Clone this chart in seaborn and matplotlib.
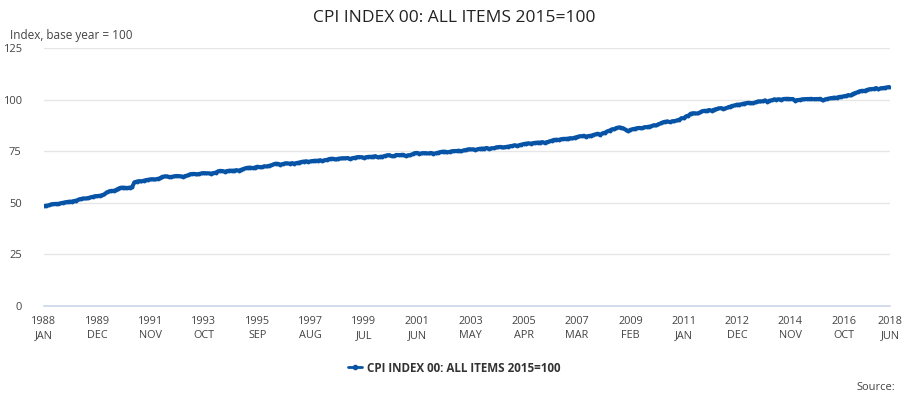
import numpy as np
import pandas as pd
import matplotlib
matplotlib.use("Agg")
import matplotlib.pyplot as plt
import seaborn as sns
from matplotlib.lines import Line2D

# ---- data (monthly CPI index, 2015=100) ----
y1988 = [48.4, 48.6, 48.8, 49.2, 49.4, 49.5, 49.5, 49.7, 50.0, 50.2, 50.4, 50.6]
y1989 = [50.6, 50.9, 51.1, 51.6, 51.9, 52.1, 52.1, 52.3, 52.6, 52.9, 53.2, 53.3]
y1990 = [53.4, 53.7, 54.1, 55.0, 55.5, 55.8, 55.8, 56.2, 56.8, 57.3, 57.4, 57.3]
y1991 = [57.2, 57.4, 57.6, 59.9, 60.3, 60.5, 60.4, 60.7, 61.0, 61.2, 61.4, 61.4]
y1992 = [61.3, 61.6, 61.9, 62.6, 62.8, 62.8, 62.5, 62.6, 62.8, 63.0, 63.0, 62.8]
y1993 = [62.6, 63.0, 63.3, 63.8, 64.0, 64.0, 63.8, 64.0, 64.3, 64.4, 64.3, 64.3]
y1994 = [64.1, 64.4, 64.6, 65.2, 65.5, 65.4, 65.1, 65.4, 65.6, 65.6, 65.6, 65.8]
y1995 = [65.6, 66.0, 66.4, 66.8, 67.0, 67.1, 66.8, 67.1, 67.5, 67.3, 67.3, 67.7]
y1996 = [67.6, 67.9, 68.2, 68.6, 69.0, 68.9, 68.5, 68.8, 69.1, 69.1, 69.0, 69.2]
y1997 = [69.0, 69.3, 69.5, 69.8, 70.0, 70.1, 69.9, 70.1, 70.3, 70.4, 70.4, 70.6]
y1998 = [70.3, 70.6, 70.8, 71.2, 71.4, 71.3, 71.0, 71.4, 71.5, 71.6, 71.6, 71.7]
y1999 = [71.3, 71.6, 71.8, 72.1, 72.2, 72.1, 71.8, 72.1, 72.3, 72.3, 72.4, 72.6]
y2000 = [72.0, 72.3, 72.4, 72.7, 73.0, 73.1, 72.6, 72.7, 73.2, 73.1, 73.2, 73.3]
y2001 = [72.7, 73.0, 73.1, 73.6, 74.1, 74.2, 73.8, 74.0, 74.1, 74.0, 73.9, 74.2]
y2002 = [73.8, 74.0, 74.3, 74.6, 74.8, 74.8, 74.5, 74.7, 75.0, 75.1, 75.1, 75.3]
y2003 = [75.0, 75.4, 75.6, 75.9, 75.9, 75.9, 75.7, 75.9, 76.2, 76.3, 76.3, 76.6]
y2004 = [76.1, 76.4, 76.5, 76.8, 77.0, 77.1, 76.8, 77.0, 77.2, 77.4, 77.6, 77.9]
y2005 = [77.6, 77.9, 78.2, 78.5, 78.7, 78.8, 78.7, 78.9, 79.1, 79.2, 79.2, 79.4]
y2006 = [79.1, 79.4, 79.7, 80.1, 80.5, 80.6, 80.5, 80.8, 81.0, 81.0, 81.1, 81.3]
y2007 = [81.2, 81.6, 81.9, 82.2, 82.3, 82.5, 82.1, 82.4, 82.5, 82.9, 83.2, 83.5]
y2008 = [83.0, 83.7, 84.0, 84.6, 85.0, 85.6, 85.7, 86.3, 86.5, 86.4, 86.0, 85.4]
y2009 = [84.7, 85.4, 85.7, 85.9, 86.2, 86.3, 86.2, 86.6, 86.7, 86.9, 87.1, 87.6]
y2010 = [87.5, 88.0, 88.5, 89.0, 89.3, 89.4, 89.1, 89.5, 89.6, 89.9, 90.2, 91.0]
y2011 = [91.0, 91.9, 92.2, 93.2, 93.4, 93.3, 93.3, 93.8, 94.4, 94.6, 94.6, 95.0]
y2012 = [94.6, 95.1, 95.4, 95.7, 95.9, 95.6, 95.7, 96.2, 96.6, 97.0, 97.2, 97.6]
y2013 = [97.6, 97.8, 98.1, 98.3, 98.5, 98.3, 98.3, 98.7, 99.1, 99.1, 99.2, 99.6]
y2014 = [99.0, 99.5, 99.7, 100.1, 100.0, 100.2, 99.9, 100.3, 100.4, 100.4, 100.3, 100.3]
y2015 = [99.5, 99.8, 99.9, 100.1, 100.2, 100.3, 100.3, 100.4, 100.2, 100.3, 100.3, 100.4]
y2016 = [99.6, 100.1, 100.4, 100.6, 100.8, 101.0, 100.9, 101.3, 101.4, 101.6, 101.8, 102.2]
y2017 = [102.0, 102.8, 103.2, 103.6, 104.1, 104.3, 104.2, 104.7, 105.0, 105.1, 105.2, 105.6]
y2018 = [105.0, 105.5, 105.6, 105.8, 106.0, 106.1]

series_name = "CPI INDEX 00: ALL ITEMS 2015=100"
tick_labels = ["1988\nJAN", "1989\nDEC", "1991\nNOV", "1993\nOCT", "1995\nSEP",
               "1997\nAUG", "1999\nJUL", "2001\nJUN", "2003\nMAY", "2005\nAPR",
               "2007\nMAR", "2009\nFEB", "2011\nJAN", "2012\nDEC", "2014\nNOV",
               "2016\nOCT", "2018\nJUN"]
y_ticks = [0, 25, 50, 75, 100, 125]

values = (y1988 + y1989 + y1990 + y1991 + y1992 + y1993 + y1994 + y1995 + y1996 +
          y1997 + y1998 + y1999 + y2000 + y2001 + y2002 + y2003 + y2004 + y2005 +
          y2006 + y2007 + y2008 + y2009 + y2010 + y2011 + y2012 + y2013 + y2014 +
          y2015 + y2016 + y2017 + y2018)
df = pd.DataFrame({"month": np.arange(len(values)), "value": values})

# ---- style ----
sns.set_theme(style="white")
plt.rcParams['font.family'] = ['Open Sans', 'DejaVu Sans']
line_color = "#0753a6"
axis_color = "#ccd6eb"
text_color = "#444444"

fig = plt.figure(figsize=(9.08, 3.97), dpi=100)
ax = fig.add_axes([44/908, 1 - 306/397, (890-44)/908, (306-48)/397])

sns.lineplot(data=df, x="month", y="value", ax=ax, color=line_color,
             linewidth=2.9, marker="o", markersize=2.8, markeredgewidth=0,
             legend=False)

ax.set_xlim(0, len(values) - 1)
ax.set_ylim(0, 125)
ax.set_yticks(y_ticks)
ax.set_yticklabels([str(v) for v in y_ticks], color=text_color, fontsize=8)
tick_pos = [i * 23 for i in range(16)] + [len(values) - 1]
ax.set_xticks(tick_pos)
ax.set_xticklabels(tick_labels, color=text_color, fontsize=7.8, linespacing=1.45)
ax.tick_params(axis="x", length=5, width=1, color=axis_color, pad=2)
ax.tick_params(axis="y", length=0)
ax.yaxis.set_tick_params(pad=16)

ax.grid(axis="y", color="#e6e6e6", linewidth=1)
ax.grid(axis="x", visible=False)
for s in ["top", "right", "left"]:
    ax.spines[s].set_visible(False)
ax.spines["bottom"].set_color(axis_color)
ax.spines["bottom"].set_linewidth(1.2)
ax.set_xlabel("")
ax.set_ylabel("")

fig.text(0.5, 1 - 18/397, series_name, ha="center", va="center",
         fontsize=12.5, color="#222222")
fig.text(10/908, 1 - 35/397, "Index, base year = 100", ha="left", va="center",
         fontsize=8.5, color=text_color)

handle = Line2D([0], [0], color=line_color, linewidth=2, marker="o", markersize=3)
fig.legend([handle], [series_name], loc="center", bbox_to_anchor=(0.5, 1 - 368/397),
           frameon=False, prop={"weight": "bold", "size": 8.4}, handlelength=1.2,
           handletextpad=0.4, labelcolor="#333333")
fig.text(895/908, 1 - 388/397, "Source:", ha="right", va="center",
         fontsize=8, color=text_color)

fig.savefig("out.png", dpi=100)
